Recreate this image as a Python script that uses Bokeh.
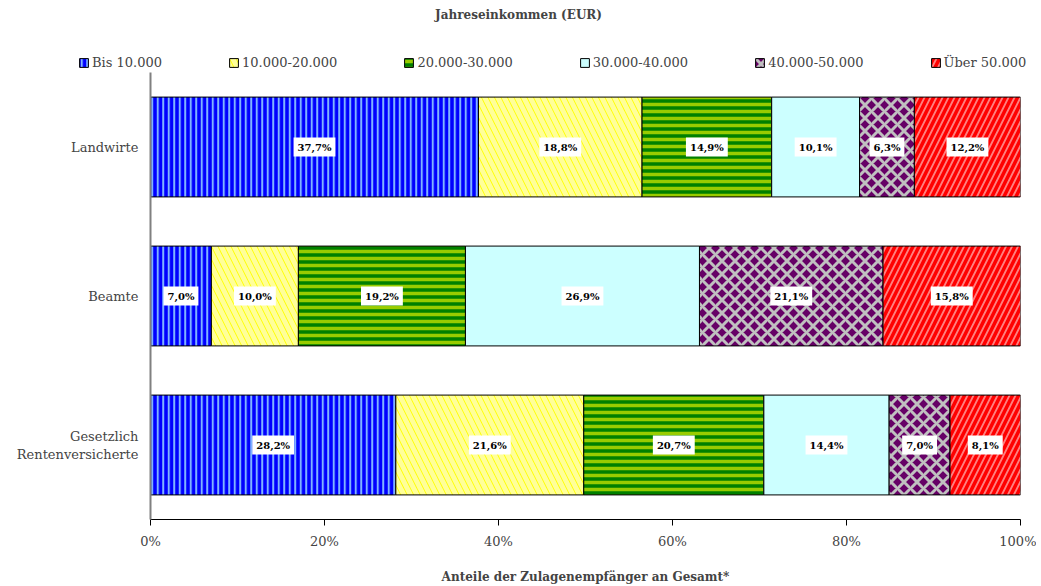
from bokeh.plotting import figure
from bokeh.layouts import column, row
from bokeh.models import (ColumnDataSource, FactorRange, Range1d, Legend, LegendItem,
                          FixedTicker, PrintfTickFormatter)
from bokeh.core.properties import value
from bokeh.embed import file_html
from bokeh.resources import INLINE
import numpy as np

categories = ["Gesetzlich\nRentenversicherte", "Beamte", "Landwirte"]
series = ["Bis 10.000", "10.000-20.000", "20.000-30.000", "30.000-40.000", "40.000-50.000", "Über 50.000"]
# shares per category (order: Gesetzlich, Beamte, Landwirte)
bis_10 = [28.2, 7.0, 37.7]
s10_20 = [21.6, 10.0, 18.8]
s20_30 = [20.7, 19.2, 14.9]
s30_40 = [14.4, 26.9, 10.1]
s40_50 = [7.0, 21.1, 6.3]
ueber_50 = [8.1, 15.8, 12.2]
x_ticks = [0, 20, 40, 60, 80, 100]

values = [bis_10, s10_20, s20_30, s30_40, s40_50, ueber_50]
styles = [
    dict(fill_color="#0000ff", hatch_color="#80b4ff", hatch_pattern="vertical_line", hatch_scale=5.5, hatch_weight=2),
    dict(fill_color="#ffff00", hatch_color="#ffff99", hatch_pattern="left_diagonal_line", hatch_scale=13, hatch_weight=5),
    dict(fill_color="#008000", hatch_color="#99cc00", hatch_pattern="horizontal_line", hatch_scale=7, hatch_weight=3.5),
    dict(fill_color="#ccffff", hatch_color=None, hatch_pattern=None, hatch_scale=12, hatch_weight=1),
    dict(fill_color="#660066", hatch_color="#c0c0c0", hatch_pattern="diagonal_cross", hatch_scale=13, hatch_weight=3),
    dict(fill_color="#ff8080", hatch_color="#ff0000", hatch_pattern="right_diagonal_line", hatch_scale=12, hatch_weight=3.5),
]

FONT = "DejaVu Serif"


def bar_kwargs(st):
    kw = dict(fill_color=st["fill_color"], line_color="black", line_width=1)
    if st["hatch_pattern"]:
        kw.update(hatch_pattern=st["hatch_pattern"], hatch_color=st["hatch_color"],
                  hatch_scale=st["hatch_scale"], hatch_weight=st["hatch_weight"])
    return kw


# ---- header figure: title + legend ----
head = figure(width=1036, height=72, output_backend="svg", toolbar_location=None,
              x_range=Range1d(0, 1), y_range=Range1d(0, 1),
              x_axis_type=None, y_axis_type=None,
              min_border_left=0, min_border_right=0, min_border_top=0, min_border_bottom=0)
head.xgrid.visible = False
head.ygrid.visible = False
head.outline_line_color = None
head.title.text = "Jahreseinkommen (EUR)"
head.title.align = "center"
head.title.text_font = FONT
head.title.text_font_size = "12px"
head.title.text_font_style = "bold"

items = []
for name, st in zip(series, styles):
    # zero-size legend proxy, hidden under the opaque legend box
    r = head.hbar(y=[0.4], left=[0.5], right=[0.5], height=0, **bar_kwargs(st))
    items.append(LegendItem(label=name, renderers=[r]))

legend = Legend(items=items, orientation="horizontal", location=(78, 2),
                label_text_font=FONT, label_text_font_size="13px",
                glyph_width=11, glyph_height=11, spacing=66, label_standoff=3,
                border_line_color=None, background_fill_color="white", background_fill_alpha=1,
                margin=0, padding=4)
head.add_layout(legend, "center")

# ---- main figure ----
p = figure(frame_width=870, frame_height=447, output_backend="svg", toolbar_location=None,
           y_range=FactorRange(*categories, range_padding=0), x_range=Range1d(0, 100),
           min_border_left=150, min_border_right=16, min_border_top=0, min_border_bottom=66)
p.outline_line_color = None
p.xgrid.visible = False
p.ygrid.visible = False

left = np.zeros(len(categories))
label_sources = []
for name, vals, st in zip(series, values, styles):
    vals = np.array(vals)
    right = left + vals
    src = ColumnDataSource(dict(y=categories, left=left, right=right, mid=(left + right) / 2,
                                lab=[f"{v:.1f}".replace(".", ",") + "%" for v in vals]))
    p.hbar(y="y", left="left", right="right", height=0.67, source=src, **bar_kwargs(st))
    label_sources.append(src)
    left = right

for src in label_sources:
    p.text(x="mid", y="y", text="lab", source=src, text_align="center",
           text_baseline="middle", text_font=value(FONT), text_font_size="10px",
           text_font_style="bold", text_color="black", background_fill_color="white",
           padding=4)

xa = p.xaxis[0]
xa.ticker = FixedTicker(ticks=x_ticks)
xa.formatter = PrintfTickFormatter(format="%d%%")
xa.axis_line_color = "black"
xa.major_tick_line_color = "black"
xa.major_tick_in = 0
xa.major_tick_out = 6
xa.minor_tick_line_color = None
xa.major_label_text_font = FONT
xa.major_label_text_font_size = "13px"
xa.major_label_standoff = 8
xa.axis_label = "Anteile der Zulagenempfänger an Gesamt*"
xa.axis_label_text_font = FONT
xa.axis_label_text_font_size = "12px"
xa.axis_label_text_font_style = "bold"
xa.axis_label_standoff = 18

ya = p.yaxis[0]
ya.axis_line_color = "#808080"
ya.axis_line_width = 2
ya.major_tick_line_color = None
ya.minor_tick_line_color = None
ya.major_label_text_font = FONT
ya.major_label_text_font_size = "13px"
ya.major_label_standoff = 6
ya.major_label_text_align = "center"

layout = column(row(head, spacing=0), p, spacing=0)
open("out.html", "w").write(file_html(layout, INLINE))
